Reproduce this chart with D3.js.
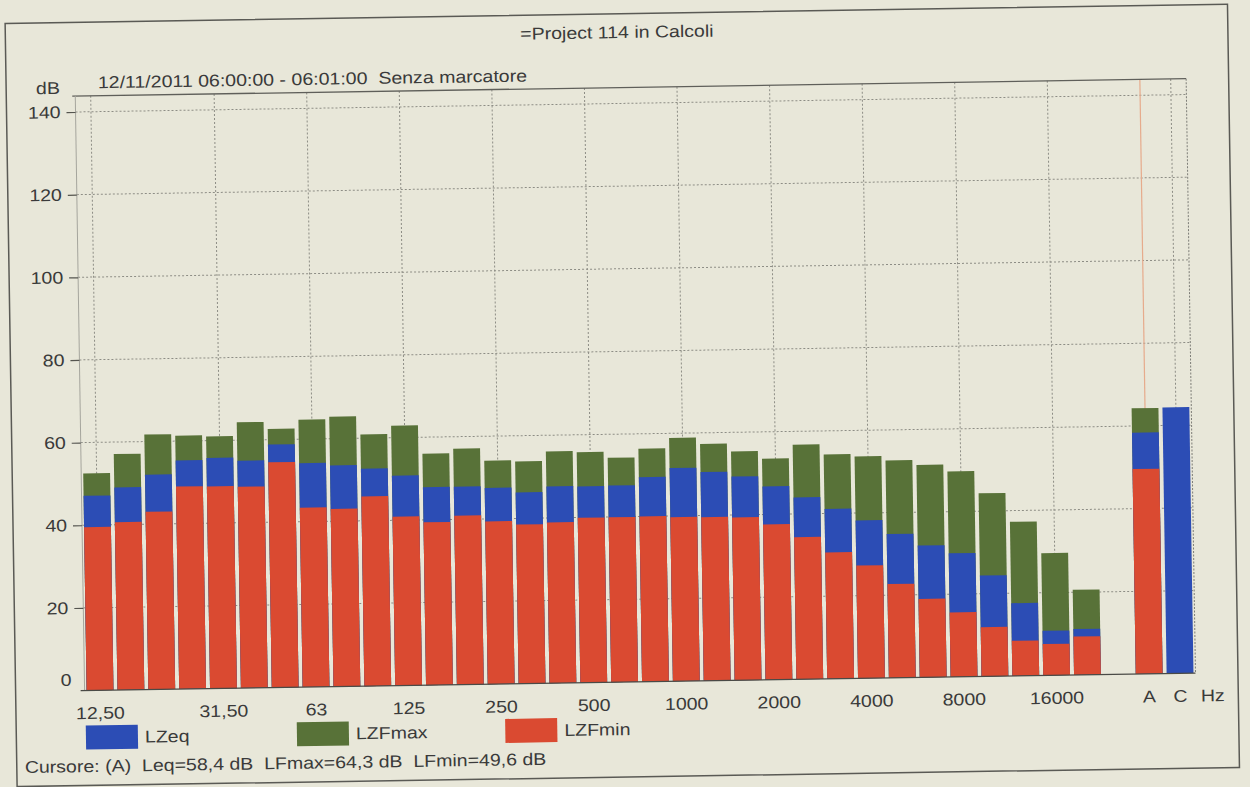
<!DOCTYPE html>
<html><head><meta charset="utf-8">
<script src="https://cdn.jsdelivr.net/npm/d3@7"></script>
<style>
html,body{margin:0;padding:0;background:#e8e7d9;}
svg{display:block;}
text{font-family:"Liberation Sans",Arial,sans-serif;fill:#3a3a3a;}
</style>
</head><body>
<svg id="chart" width="1250" height="787"></svg>
<script>
// ---- data ----
const freqs = ["12,50","16","20","25","31,50","40","50","63","80","100","125","160","200","250","315","400","500","630","800","1000","1250","1600","2000","2500","3150","4000","5000","6300","8000","10000","12500","16000","20000"];
const lzfmax = [52.5,57.1,61.7,61.3,61.0,64.3,62.6,64.7,65.3,60.9,62.9,56.0,57.1,54.1,53.8,56.1,55.8,54.3,56.4,58.9,57.3,55.4,53.5,56.8,54.3,53.7,52.6,51.4,49.7,44.3,37.3,29.6,20.6];
const lzeq   = [47.1,49.0,52.0,55.3,55.8,55.0,58.8,54.2,53.5,52.6,50.8,47.9,47.9,47.5,46.3,47.6,47.5,47.6,49.5,51.6,50.5,49.3,46.8,44.0,41.1,38.2,34.8,31.9,29.9,24.4,17.6,10.8,11.1];
const lzfmin = [39.5,40.6,43.0,49.0,48.9,48.7,54.5,43.4,43.0,45.9,40.9,39.4,40.9,39.4,38.5,38.9,39.9,39.9,40.0,39.7,39.6,39.4,37.6,34.4,30.6,27.3,22.7,19.0,15.6,11.9,8.5,7.6,9.3];
const totals = ["A","C"];
const totalLzeq   = [58.4, 64.4];
const totalLzfmax = [64.3, null];
const totalLzfmin = [49.6, null];
const xTickLabels = ["12,50","31,50","63","125","250","500","1000","2000","4000","8000","16000","A","C"];
const xGridAt = ["12,50","31,50","63","125","250","500","1000","2000","4000","8000","16000","C"];
const yTicks = [0,20,40,60,80,100,120,140];
const seriesNames = ["LZeq","LZFmax","LZFmin"];
const seriesColors = ["#2c4db5","#587238","#da4a31"];
const titleText = "=Project 114 in Calcoli";
const subtitleText = "12/11/2011 06:00:00 - 06:01:00  Senza marcatore";
const cursorText = "Cursore: (A)  Leq=58,4 dB  LFmax=64,3 dB  LFmin=49,6 dB";

// ---- build rows ----
const GAP = " ";
const rows = freqs.map((f,i)=>({key:f, max:lzfmax[i], eq:lzeq[i], min:lzfmin[i]}))
  .concat(totals.map((t,i)=>({key:t, max:totalLzfmax[i], eq:totalLzeq[i], min:totalLzfmin[i]})));
const domain = freqs.concat([GAP], totals);

const svg = d3.select("#chart");
svg.append("rect").attr("width",1250).attr("height",787).attr("fill","#e8e7d9");
const g = svg.append("g").attr("transform","rotate(-0.9,625,393)");

const L = 80, R = 1191, T = 87.5;
const x = d3.scaleBand().domain(domain).range([L,R]).paddingInner(0.13).paddingOuter(0.065);
const y = d3.scaleLinear().domain([0,140]).range([682,103.4]);

function stext(sel, px, py, str, anchor, size){
  return sel.append("text")
    .attr("transform",`translate(${px},${py}) scale(1.15,1)`)
    .attr("text-anchor",anchor||"start")
    .attr("font-size",size||17)
    .style("white-space","pre")
    .text(str);
}

// outer frame
g.append("rect").attr("x",11).attr("y",13.7).attr("width",1222.5).attr("height",763.3)
  .attr("fill","none").attr("stroke","#5a5a55").attr("stroke-width",1.5);

// title / header
stext(g, 622.5, 38, titleText, "middle");
stext(g, 40.8, 85, "dB", "start");
stext(g, 102.8, 80, subtitleText, "start");

// horizontal grid
g.append("g").selectAll("line").data(yTicks.filter(v=>v>0)).join("line")
  .attr("x1",L).attr("x2",R).attr("y1",d=>y(d)).attr("y2",d=>y(d))
  .attr("stroke","#8d8d85").attr("stroke-width",1).attr("stroke-dasharray","2,2");
// vertical grid
g.append("g").selectAll("line").data(xGridAt).join("line")
  .attr("x1",d=>x(d)+x.bandwidth()/2).attr("x2",d=>x(d)+x.bandwidth()/2)
  .attr("y1",T).attr("y2",y(0))
  .attr("stroke","#8d8d85").attr("stroke-width",1).attr("stroke-dasharray","2,2");
// cursor line at A
g.append("line").attr("x1",x("A")+x.bandwidth()/2).attr("x2",x("A")+x.bandwidth()/2)
  .attr("y1",T).attr("y2",y(0)).attr("stroke","#e6ab8c").attr("stroke-width",1.2);

// frame lines
g.append("line").attr("x1",L-3).attr("x2",R).attr("y1",T).attr("y2",T).attr("stroke","#5f5f5a").attr("stroke-width",1.3);
g.append("line").attr("x1",R).attr("x2",R).attr("y1",T).attr("y2",y(0)).attr("stroke","#7d7d77").attr("stroke-width",1).attr("stroke-dasharray","2,1.5");
g.append("line").attr("x1",L).attr("x2",L).attr("y1",T).attr("y2",y(0)).attr("stroke","#a5a59d").attr("stroke-width",1);

// bars (overlaid: max behind, eq, min in front)
const barLayers = [["max",seriesColors[1]],["eq",seriesColors[0]],["min",seriesColors[2]]];
barLayers.forEach(([k,c])=>{
  g.append("g").selectAll("rect").data(rows.filter(r=>r[k]!=null)).join("rect")
    .attr("x",r=>x(r.key)).attr("width",x.bandwidth())
    .attr("y",r=>y(r[k])).attr("height",r=>y(0)-y(r[k]))
    .attr("fill",c);
});

// x axis
const xAxis = d3.axisBottom(x).tickValues(xTickLabels).tickSizeInner(0).tickSizeOuter(0).tickPadding(16.5);
const xg = g.append("g").attr("transform",`translate(0,${y(0)})`).call(xAxis);
xg.select(".domain").attr("stroke","#4a4a46").attr("stroke-width",1.3).attr("d",`M${L-4},0H${R}`);
xg.selectAll("text").attr("font-size",17).attr("fill","#3a3a3a")
  .attr("font-family",'"Liberation Sans",Arial,sans-serif')
  .attr("transform","scale(1.15,1)")
  .attr("x",function(){return 0;});
xg.selectAll(".tick").each(function(d){
  const t = d3.select(this);
  const tx = x(d)+x.bandwidth()/2;
  t.attr("transform",`translate(${tx},0)`);
});
stext(g, 1208, 710.6, "Hz", "middle");

// y axis
const yAxis = d3.axisLeft(y).tickValues(yTicks.filter(v=>v>0)).tickSizeInner(9).tickSizeOuter(0).tickPadding(4);
const yg = g.append("g").attr("transform",`translate(${L},0)`).call(yAxis);
yg.select(".domain").remove();
yg.selectAll("line").attr("stroke","#55554f").attr("stroke-width",1.2);
yg.selectAll("text").attr("font-size",17).attr("fill","#3a3a3a")
  .attr("font-family",'"Liberation Sans",Arial,sans-serif')
  .attr("x",-13).attr("transform","scale(1.15,1)");
// 0 label sits slightly raised above the base line
stext(g, 67, y(0)-5, "0", "end");

// legend
const legendX = [80.6, 291.6, 500];
const lg = g.append("g");
seriesNames.forEach((n,i)=>{
  lg.append("rect").attr("x",legendX[i]).attr("y",717).attr("width",52).attr("height",24).attr("fill",seriesColors[i]);
  stext(lg, legendX[i]+59, 735, n, "start");
});
stext(g, 19, 763.6, cursorText, "start");
</script>
</body></html>
